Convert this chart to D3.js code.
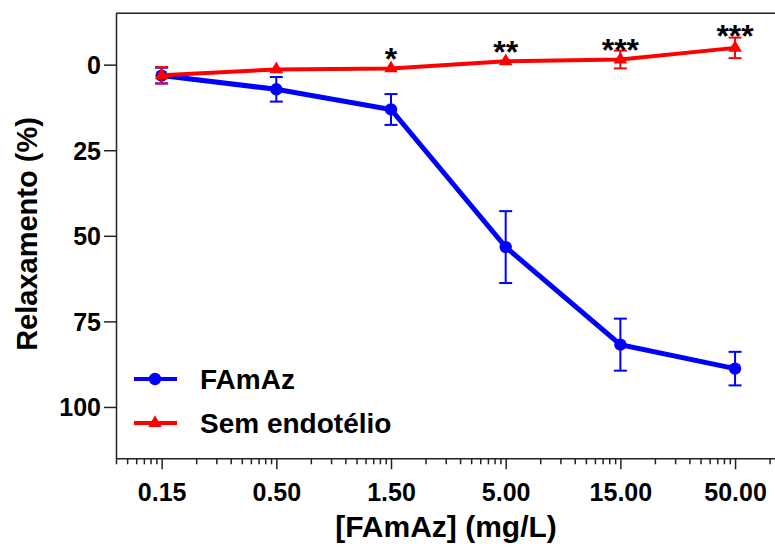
<!DOCTYPE html>
<html lang="en">
<head>
    <meta charset="UTF-8">
    <title>Relaxamento FAmAz</title>
    <script src="https://d3js.org/d3.v7.min.js"></script>
    <style>
        body { margin: 0; background: #ffffff; }
        text { font-family: "Liberation Sans", Arial, Helvetica, sans-serif; font-weight: bold; fill: #000; }
    </style>
</head>
<body>
<div id="chartDiv"></div>
<script>
    // dose positions on the log axis (one decade apart) and the labels shown for them
    const doses = [1, 10, 100, 1000, 10000, 100000];
    const doseLabels = ["0.15", "0.50", "1.50", "5.00", "15.00", "50.00"];

    // FAmAz (with endothelium)
    const famaz = [3.2, 7.2, 13.1, 53.3, 81.8, 88.8];
    const famazErr = [2.3, 3.6, 4.5, 10.5, 7.6, 4.9];

    // Sem endotélio
    const semEndo = [3.1, 1.4, 1.1, -1.0, -1.5, -4.9];
    const semEndoErr = [2.4, 0, 0, 0, 2.6, 3.0];

    // significance marks above the red series (baseline in y units)
    const sigMarks = ["", "", "*", "**", "***", "***"];
    const sigY = [0, 0, 1.5, -0.5, -1.0, -5.1];

    const yTicks = [0, 25, 50, 75, 100];

    const width = 775, height = 548;
    const plot = { left: 116, right: 775, top: 13.3, bottom: 458.3 };

    const svg = d3.select("#chartDiv").append("svg")
        .attr("width", width)
        .attr("height", height);

    const x = d3.scaleLog()
        .domain([0.4, 2.23e5])
        .range([plot.left, plot.right]);

    // inverted axis: relaxation grows downwards
    const y = d3.scaleLinear()
        .domain([-15, 115])
        .range([plot.top, plot.bottom]);

    // top frame line
    svg.append("line")
        .attr("x1", plot.left).attr("x2", plot.right)
        .attr("y1", plot.top).attr("y2", plot.top)
        .attr("stroke", "#222").attr("stroke-width", 1.5);

    // minor x ticks
    const minor = x.ticks().filter(d => doses.indexOf(d) < 0);
    svg.append("g")
        .attr("transform", `translate(0,${plot.bottom})`)
        .call(d3.axisBottom(x).tickValues(minor).tickSize(6).tickSizeOuter(0).tickFormat(""))
        .call(g => g.select(".domain").remove())
        .call(g => g.selectAll("line").attr("stroke", "#222").attr("stroke-width", 1.5));

    // major x axis
    svg.append("g")
        .attr("transform", `translate(0,${plot.bottom})`)
        .call(d3.axisBottom(x).tickValues(doses).tickSize(11).tickSizeOuter(0)
            .tickPadding(22).tickFormat((d, i) => doseLabels[i]))
        .call(g => g.select(".domain").attr("stroke", "#222").attr("stroke-width", 1.5))
        .call(g => g.selectAll("line").attr("stroke", "#222").attr("stroke-width", 1.5))
        .call(g => g.selectAll("text").attr("font-size", 25).attr("dy", 0).attr("y", 43));

    // y axis
    svg.append("g")
        .attr("transform", `translate(${plot.left},0)`)
        .call(d3.axisLeft(y).tickValues(yTicks).tickSize(12).tickSizeOuter(0).tickPadding(3))
        .call(g => g.select(".domain").attr("stroke", "#222").attr("stroke-width", 1.5))
        .call(g => g.selectAll("line").attr("stroke", "#222").attr("stroke-width", 1.5))
        .call(g => g.selectAll("text").attr("font-size", 25).attr("dy", "0.36em"));

    // axis titles
    svg.append("text")
        .attr("transform", "translate(37,234) rotate(-90)")
        .attr("text-anchor", "middle")
        .attr("font-size", 29)
        .text("Relaxamento (%)");

    svg.append("text")
        .attr("x", 446).attr("y", 537)
        .attr("text-anchor", "middle")
        .attr("font-size", 30)
        .text("[FAmAz] (mg/L)");

    function drawSeries(vals, errs, color, lineW, marker) {
        const pts = doses.map((d, i) => ({ d, v: vals[i], e: errs[i] }));
        const g = svg.append("g");

        const bars = g.selectAll(".err").data(pts.filter(p => p.e > 0)).enter().append("g")
            .attr("stroke", color).attr("stroke-width", 2);
        bars.append("line")
            .attr("x1", p => x(p.d)).attr("x2", p => x(p.d))
            .attr("y1", p => y(p.v - p.e)).attr("y2", p => y(p.v + p.e));
        bars.append("line")
            .attr("x1", p => x(p.d) - 6.5).attr("x2", p => x(p.d) + 6.5)
            .attr("y1", p => y(p.v - p.e)).attr("y2", p => y(p.v - p.e));
        bars.append("line")
            .attr("x1", p => x(p.d) - 6.5).attr("x2", p => x(p.d) + 6.5)
            .attr("y1", p => y(p.v + p.e)).attr("y2", p => y(p.v + p.e));

        g.append("path")
            .datum(pts)
            .attr("fill", "none")
            .attr("stroke", color)
            .attr("stroke-width", lineW)
            .attr("d", d3.line().x(p => x(p.d)).y(p => y(p.v)));

        g.selectAll(".mk").data(pts).enter().append("path")
            .attr("transform", p => `translate(${x(p.d)},${y(p.v)})`)
            .attr("d", marker)
            .attr("fill", color);
    }

    const circleMk = d3.symbol().type(d3.symbolCircle).size(Math.PI * 6.2 * 6.2)();
    const triMk = d3.symbol().type(d3.symbolTriangle).size(80)();

    drawSeries(famaz, famazErr, "#0000ff", 5, circleMk);
    drawSeries(semEndo, semEndoErr, "#ff0000", 4, triMk);

    // asterisks
    svg.selectAll(".sig").data(sigMarks).enter().append("text")
        .attr("x", (s, i) => x(doses[i]))
        .attr("y", (s, i) => y(sigY[i]))
        .attr("text-anchor", "middle")
        .attr("font-size", 32)
        .text(s => s);

    // legend
    const legendItems = [
        { name: "FAmAz", color: "#0000ff", mk: circleMk, w: 4 },
        { name: "Sem endotélio", color: "#ff0000", mk: triMk, w: 4 }
    ];
    const legend = svg.append("g").attr("transform", "translate(134,379)");
    legendItems.forEach((it, i) => {
        const row = legend.append("g").attr("transform", `translate(0,${i * 44})`);
        row.append("line").attr("x1", 0).attr("x2", 43).attr("y1", 0).attr("y2", 0)
            .attr("stroke", it.color).attr("stroke-width", it.w);
        row.append("path").attr("transform", "translate(21,0)").attr("d", it.mk).attr("fill", it.color);
        row.append("text").attr("x", 66).attr("y", 10).attr("font-size", 28).text(it.name);
    });
</script>
</body>
</html>
